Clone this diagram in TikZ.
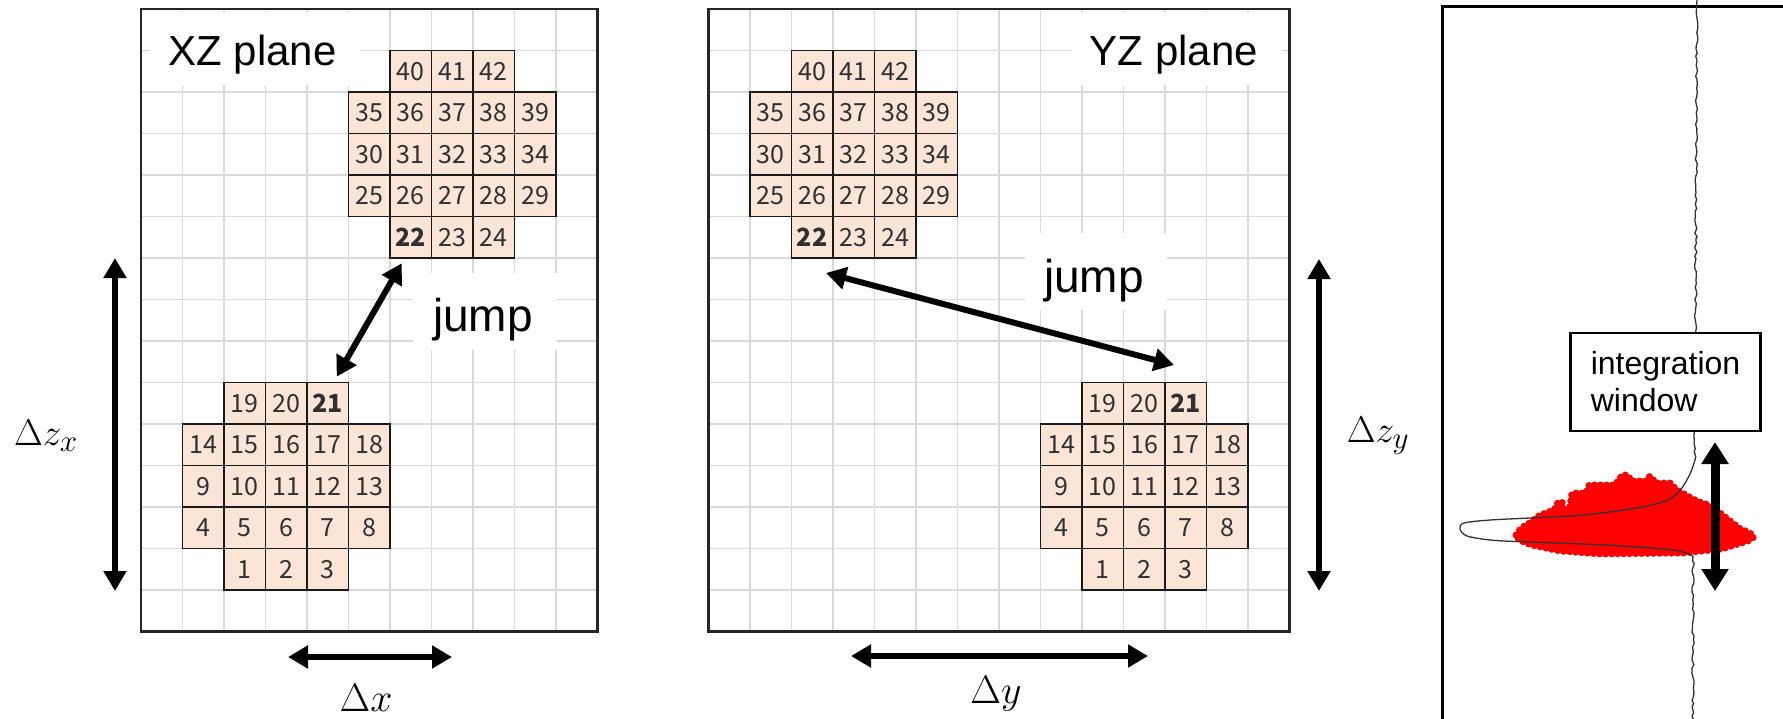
\documentclass[tikz,border=0pt]{standalone}
\usepackage{graphicx}
\usepackage{fontspec}
\setmainfont{Liberation Sans}
\newfontfamily\cellfont{Noto Sans CJK JP}
\usetikzlibrary{arrows.meta,calc,decorations.pathmorphing}
\definecolor{peach}{HTML}{FBE5D6}
\definecolor{gridc}{HTML}{D9D9D9}
\definecolor{numc}{HTML}{303030}
\newcommand{\bigmath}[1]{\scalebox{1.6}{$#1$}}
\tikzset{
  cellbox/.style={draw=black!90, line width=1.5pt, fill=peach, minimum width=41.5pt, minimum height=41.5pt, inner sep=0pt, text=numc, font={\cellfont\fontsize{25}{25}\selectfont}},
  gridline/.style={draw=gridc, line width=1.5pt},
  whitebg/.style={fill=white, draw=none, inner sep=0pt},
  planelbl/.style={font={\fontsize{42}{48}\selectfont}, inner sep=0pt},
  jumplbl/.style={font={\fontsize{46}{52}\selectfont}, inner sep=0pt},
  mathlbl/.style={font={\fontsize{24.88}{30}\selectfont}, inner sep=0pt},
  dblarrow/.style={line width=6pt, {Triangle[length=20pt,width=22pt]}-{Triangle[length=20pt,width=22pt]}},
  bigarrow/.style={line width=9pt, {Triangle[length=22pt,width=26pt]}-{Triangle[length=22pt,width=26pt]}},
  panelframe/.style={draw=black!85, line width=2.5pt},
  trace/.style={draw=black!80, line width=1.3pt},
  wavy/.style={trace, decorate, decoration={random steps, segment length=4pt, amplitude=1.2pt}},
}
\begin{document}
\begin{tikzpicture}[x=1pt,y=-1pt]
\useasboundingbox (0,0) rectangle (1783,718);
\clip (0,0) rectangle (1783,718);
\pgfmathsetseed{11}

% ---------- grids ----------
\foreach \i in {1,...,10} {\draw[gridline] ({141+\i*41.5},9) -- ({141+\i*41.5},631.5);}
\foreach \j in {1,...,14} {\draw[gridline] (141,{9+\j*41.5}) -- (597.5,{9+\j*41.5});}
\foreach \i in {1,...,13} {\draw[gridline] ({708.4+\i*41.5},9) -- ({708.4+\i*41.5},631.5);}
\foreach \j in {1,...,14} {\draw[gridline] (708.4,{9+\j*41.5}) -- (1289.4,{9+\j*41.5});}

% ---------- white label backgrounds ----------
\node[whitebg, minimum width=210pt, minimum height=73pt] (xzbg) at (255,48.5) {};
\node[whitebg, minimum width=144pt, minimum height=77pt] (jlbg) at (485,311.5) {};
\node[whitebg, minimum width=211pt, minimum height=73pt] (yzbg) at (1176.5,48.5) {};
\node[whitebg, minimum width=142pt, minimum height=77pt] (jmbg) at (1096,271.5) {};

% ---------- cell clusters ----------
\foreach \n/\c/\r in {1/1/13,2/2/13,3/3/13,4/0/12,5/1/12,6/2/12,7/3/12,8/4/12,9/0/11,10/1/11,11/2/11,12/3/11,13/4/11,14/0/10,15/1/10,16/2/10,17/3/10,18/4/10,19/1/9,20/2/9,21/3/9} {
  \node[cellbox] (L\n) at ({141+(1+\c+0.5)*41.5},{9+(\r+0.5)*41.5}) {\ifnum\n=21 \bfseries\fi\n};
  \node[cellbox] (M\n) at ({708.4+(8+\c+0.5)*41.5},{9+(\r+0.5)*41.5}) {\ifnum\n=21 \bfseries\fi\n};
}
\foreach \n/\c/\r in {22/1/5,23/2/5,24/3/5,25/0/4,26/1/4,27/2/4,28/3/4,29/4/4,30/0/3,31/1/3,32/2/3,33/3/3,34/4/3,35/0/2,36/1/2,37/2/2,38/3/2,39/4/2,40/1/1,41/2/1,42/3/1} {
  \node[cellbox] (L\n) at ({141+(5+\c+0.5)*41.5},{9+(\r+0.5)*41.5}) {\ifnum\n=22 \bfseries\fi\n};
  \node[cellbox] (M\n) at ({708.4+(1+\c+0.5)*41.5},{9+(\r+0.5)*41.5}) {\ifnum\n=22 \bfseries\fi\n};
}

% ---------- frames ----------
\draw[panelframe] (141,9) rectangle (597.5,631.5);
\draw[panelframe] (708.4,9) rectangle (1289.4,631.5);

% ---------- labels ----------
\node[planelbl, anchor=base] (xz) at (252.5,65) {XZ plane};
\node[planelbl, anchor=base] (yz) at (1174,65) {YZ plane};
\node[jumplbl, anchor=base] (jl) at (483,331) {jump};
\node[jumplbl, anchor=base] (jm) at (1094,292) {jump};

% ---------- jump arrows ----------
\coordinate (jlA) at (401.7,263.3);
\coordinate (jlB) at (336.7,376.7);
\draw[dblarrow] (jlA) -- (jlB);
\coordinate (jmA) at (826,273);
\coordinate (jmB) at (1174,365);
\draw[dblarrow] (jmA) -- (jmB);

% ---------- extent arrows ----------
\coordinate (dxA) at (288,657); \coordinate (dxB) at (452,657);
\draw[dblarrow] (dxA) -- (dxB);
\coordinate (dyA) at (851,656); \coordinate (dyB) at (1148,656);
\draw[dblarrow] (dyA) -- (dyB);
\coordinate (dzxA) at (115,258); \coordinate (dzxB) at (115,591);
\draw[dblarrow] (dzxA) -- (dzxB);
\coordinate (dzyA) at (1319,259); \coordinate (dzyB) at (1319,591);
\draw[dblarrow] (dzyA) -- (dzyB);

\node[mathlbl] (dx) at (366,698) {\bigmath{\Delta x}};
\node[mathlbl] (dy) at (996,694) {\bigmath{\Delta y}};
\node[mathlbl] (dzx) at (46,436) {\scalebox{1.5}{$\Delta z_x$}};
\node[mathlbl] (dzy) at (1378,436) {\scalebox{1.5}{$\Delta z_y$}};

% ---------- right panel ----------
\draw[line width=3pt] (1442,6) rectangle (1800,740);
\path[fill=red, draw=red, line width=7pt, dash pattern=on 0pt off 6pt, line cap=round]
  (1516,535) -- (1521,528) -- (1528,524) -- (1540,515) -- (1554,510) -- (1558,502) -- (1562,502)
  -- (1564,511) -- (1569,511) -- (1572,493) -- (1586,493) -- (1589,485) -- (1615,485)
  -- (1622,475) -- (1628,475) -- (1631,481) -- (1646,481) -- (1650,476) -- (1656,483)
  -- (1670,483) -- (1677,490) -- (1686,495) -- (1697,501) -- (1709,505) -- (1719,512)
  -- (1729,520) -- (1739,528) -- (1750,533) -- (1754,537) -- (1748,541) -- (1722,549)
  -- (1683,553) -- (1600,554) -- (1560,551) -- (1531,545) -- (1519,540) -- cycle;
\coordinate (wtop) at (1697,-4);
\coordinate (wA) at (1695,460);
\coordinate (wB) at (1693,556);
\coordinate (wbot) at (1693,724);
\draw[wavy] (wtop) -- (wA);
\draw[trace] plot[smooth, tension=0.5] coordinates {(1695,460) (1690,474) (1681,489) (1668,500) (1637,508) (1583,515) (1530,518) (1490,520) (1464,523) (1460,529) (1467,536) (1490,540) (1520,541.7) (1583,544) (1633,546.7) (1677,550.5) (1693,556)};
\draw[wavy] (wB) -- (wbot);
\node[draw, line width=2.5pt, fill=white, minimum width=190pt, minimum height=98pt, align=left, inner sep=0pt, font={\fontsize{32}{37}\selectfont}] (iw) at (1665.5,382) {integration\\window};
\coordinate (raA) at (1715,442); \coordinate (raB) at (1715,591);
\draw[bigarrow] (raA) -- (raB);
\end{tikzpicture}
\end{document}
